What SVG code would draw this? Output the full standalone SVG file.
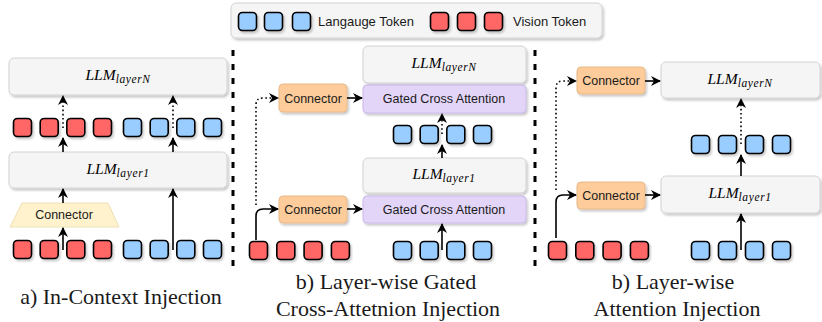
<svg xmlns="http://www.w3.org/2000/svg" width="822" height="322" viewBox="0 0 822 322">
<defs>
<filter id="sh" x="-10%" y="-20%" width="130%" height="160%">
<feDropShadow dx="1.5" dy="2" stdDeviation="1" flood-color="#000" flood-opacity="0.22"/>
</filter>
<marker id="ah" viewBox="0 0 10 10" refX="9" refY="5" markerWidth="10" markerHeight="10" markerUnits="userSpaceOnUse" orient="auto">
<path d="M0,0 L10,5 L0,10 L3,5 Z" fill="#000"/>
</marker>
</defs>
<style>
.box{fill:#f5f5f5;stroke:#d2d2d2;stroke-width:1;filter:url(#sh)}
.gca{fill:#e3d5f8;stroke:#cbb8ea;stroke-width:1;filter:url(#sh)}
.con{fill:#fdcc9a;stroke:#e9b888;stroke-width:1;filter:url(#sh)}
.trap{fill:#fff2cc;stroke:#eee0b4;stroke-width:1}
.t rect{stroke:#000;stroke-width:1.6;filter:url(#sh)}
.r{fill:#ff6666}
.b{fill:#99ccff}
.sans{font-family:"Liberation Sans",Arial,sans-serif;font-size:12.5px;fill:#1a1a1a;text-anchor:middle}
.llm{font-family:"Liberation Serif","Times New Roman",serif;font-style:italic;font-size:15.5px;fill:#000;text-anchor:middle}
.sub{font-size:11.5px;letter-spacing:0.6px}
.cap{font-family:"Liberation Serif","Times New Roman",serif;font-size:22px;fill:#1a1a1a;text-anchor:middle}
.a{fill:none;stroke:#000;stroke-width:1.6;marker-end:url(#ah)}
.d{fill:none;stroke:#000;stroke-width:1.6;stroke-dasharray:1.6 2.6;marker-end:url(#ah)}
.sep{stroke:#000;stroke-width:3;stroke-dasharray:6 8}
</style>

<g id="legend">
<rect x="231" y="3" width="371" height="35" rx="5" class="box"/>
<g class="t">
<rect x="238.5" y="12.5" width="18" height="18" rx="4" class="b"/>
<rect x="264.5" y="12.5" width="18" height="18" rx="4" class="b"/>
<rect x="292.5" y="12.5" width="18" height="18" rx="4" class="b"/>
<rect x="430.5" y="12.5" width="18" height="18" rx="4" class="r"/>
<rect x="457.5" y="12.5" width="18" height="18" rx="4" class="r"/>
<rect x="484.5" y="12.5" width="18" height="18" rx="4" class="r"/>
</g>
<text x="318" y="26" class="sans" style="text-anchor:start;font-size:13px">Langauge Token</text>
<text x="513" y="26" class="sans" style="text-anchor:start;font-size:13px">Vision Token</text>
</g>

<g id="separators">
<line x1="233" y1="50" x2="233" y2="272" class="sep"/>
<line x1="535" y1="50" x2="535" y2="272" class="sep"/>
</g>

<!-- Panel a -->
<g id="a-llmN">
<rect x="9" y="58" width="218" height="37" rx="5" class="box"/>
<text x="118" y="80" class="llm">LLM<tspan class="sub" dy="3">layerN</tspan></text>
</g>
<g id="a-tokens-mid" class="t">
<rect x="13.5" y="118.5" width="18" height="18" rx="4" class="r"/>
<rect x="40.2" y="118.5" width="18" height="18" rx="4" class="r"/>
<rect x="66.8" y="118.5" width="18" height="18" rx="4" class="r"/>
<rect x="93.5" y="118.5" width="18" height="18" rx="4" class="r"/>
<rect x="123.5" y="118.5" width="18" height="18" rx="4" class="b"/>
<rect x="150.2" y="118.5" width="18" height="18" rx="4" class="b"/>
<rect x="176.8" y="118.5" width="18" height="18" rx="4" class="b"/>
<rect x="203.5" y="118.5" width="18" height="18" rx="4" class="b"/>
</g>
<g id="a-llm1">
<rect x="9" y="152" width="218" height="36" rx="5" class="box"/>
<text x="118" y="174" class="llm">LLM<tspan class="sub" dy="3">layer1</tspan></text>
</g>
<g id="a-connector">
<path d="M22,203 L108,203 L119,227 L10,227 Z" class="trap"/>
<text x="64" y="219" class="sans">Connector</text>
</g>
<g id="a-tokens-in" class="t">
<rect x="13.5" y="240.5" width="18" height="18" rx="4" class="r"/>
<rect x="40.2" y="240.5" width="18" height="18" rx="4" class="r"/>
<rect x="66.8" y="240.5" width="18" height="18" rx="4" class="r"/>
<rect x="93.5" y="240.5" width="18" height="18" rx="4" class="r"/>
<rect x="123.5" y="240.5" width="18" height="18" rx="4" class="b"/>
<rect x="150.2" y="240.5" width="18" height="18" rx="4" class="b"/>
<rect x="176.8" y="240.5" width="18" height="18" rx="4" class="b"/>
<rect x="203.5" y="240.5" width="18" height="18" rx="4" class="b"/>
</g>
<text x="121" y="304" class="cap">a) In-Context Injection</text>

<!-- Panel b -->
<g id="b-llmN">
<rect x="363" y="46" width="163" height="37" rx="5" class="box"/>
<text x="444" y="68" class="llm">LLM<tspan class="sub" dy="3">layerN</tspan></text>
</g>
<g id="b-gca2">
<rect x="363" y="85" width="163" height="28" rx="4" class="gca"/>
<text x="444" y="103" class="sans">Gated Cross Attention</text>
</g>
<g id="b-conn2">
<rect x="279" y="84" width="68" height="28" rx="4" class="con"/>
<text x="313" y="103" class="sans">Connector</text>
</g>
<g id="b-tokens-mid" class="t">
<rect x="393.5" y="125.5" width="18" height="18" rx="4" class="b"/>
<rect x="420.2" y="125.5" width="18" height="18" rx="4" class="b"/>
<rect x="446.8" y="125.5" width="18" height="18" rx="4" class="b"/>
<rect x="473.5" y="125.5" width="18" height="18" rx="4" class="b"/>
</g>
<g id="b-llm1">
<rect x="363" y="158" width="163" height="35" rx="5" class="box"/>
<text x="444" y="179" class="llm">LLM<tspan class="sub" dy="3">layer1</tspan></text>
</g>
<g id="b-gca1">
<rect x="363" y="196" width="163" height="27" rx="4" class="gca"/>
<text x="444" y="214" class="sans">Gated Cross Attention</text>
</g>
<g id="b-conn1">
<rect x="279" y="196" width="68" height="27" rx="4" class="con"/>
<text x="313" y="214" class="sans">Connector</text>
</g>
<g id="b-tokens-in" class="t">
<rect x="249.5" y="241.5" width="18" height="18" rx="4" class="r"/>
<rect x="276.8" y="241.5" width="18" height="18" rx="4" class="r"/>
<rect x="304.1" y="241.5" width="18" height="18" rx="4" class="r"/>
<rect x="331.4" y="241.5" width="18" height="18" rx="4" class="r"/>
<rect x="393.5" y="241.5" width="18" height="18" rx="4" class="b"/>
<rect x="420.2" y="241.5" width="18" height="18" rx="4" class="b"/>
<rect x="446.8" y="241.5" width="18" height="18" rx="4" class="b"/>
<rect x="473.5" y="241.5" width="18" height="18" rx="4" class="b"/>
</g>
<text x="386" y="289" class="cap">b) Layer-wise Gated</text>
<text x="388" y="316" class="cap">Cross-Attetnion Injection</text>

<!-- Panel c -->
<g id="c-conn2">
<rect x="577" y="67" width="68" height="27" rx="4" class="con"/>
<text x="611" y="85" class="sans">Connector</text>
</g>
<g id="c-llmN">
<rect x="661" y="62" width="159" height="36" rx="5" class="box"/>
<text x="740" y="84" class="llm">LLM<tspan class="sub" dy="3">layerN</tspan></text>
</g>
<g id="c-tokens-mid" class="t">
<rect x="691.5" y="135.5" width="18" height="18" rx="4" class="b"/>
<rect x="718.5" y="135.5" width="18" height="18" rx="4" class="b"/>
<rect x="745.5" y="135.5" width="18" height="18" rx="4" class="b"/>
<rect x="772.5" y="135.5" width="18" height="18" rx="4" class="b"/>
</g>
<g id="c-conn1">
<rect x="577" y="182" width="68" height="27" rx="4" class="con"/>
<text x="611" y="200" class="sans">Connector</text>
</g>
<g id="c-llm1">
<rect x="661" y="176" width="159" height="37" rx="5" class="box"/>
<text x="740" y="198" class="llm">LLM<tspan class="sub" dy="3">layer1</tspan></text>
</g>
<g id="c-tokens-in" class="t">
<rect x="548.5" y="241.5" width="18" height="18" rx="4" class="r"/>
<rect x="575.8" y="241.5" width="18" height="18" rx="4" class="r"/>
<rect x="603.1" y="241.5" width="18" height="18" rx="4" class="r"/>
<rect x="630.4" y="241.5" width="18" height="18" rx="4" class="r"/>
<rect x="691.5" y="241.5" width="18" height="18" rx="4" class="b"/>
<rect x="718.5" y="241.5" width="18" height="18" rx="4" class="b"/>
<rect x="745.5" y="241.5" width="18" height="18" rx="4" class="b"/>
<rect x="772.5" y="241.5" width="18" height="18" rx="4" class="b"/>
</g>
<text x="673" y="289" class="cap">b) Layer-wise</text>
<text x="677" y="316" class="cap">Attention Injection</text>

<g id="connectors">
<!-- panel a -->
<path d="M63,128 L63,96" class="d"/>
<path d="M173,128 L173,96" class="d"/>
<path d="M63,152 L63,138" class="a"/>
<path d="M173,152 L173,138" class="a"/>
<path d="M63,203 L63,189" class="a"/>
<path d="M63,250 L63,228" class="a"/>
<path d="M173,250 L173,189" class="a"/>
<!-- panel b -->
<path d="M347,98 L362,98" class="a"/>
<path d="M256,205 L256,105 Q256,98 263,98 L278,98" class="d"/>
<path d="M442,134 L442,114" class="d"/>
<path d="M442,158 L442,145" class="a"/>
<path d="M347,209 L362,209" class="a"/>
<path d="M256,240 L256,216 Q256,209 263,209 L278,209" class="a"/>
<path d="M442,250 L442,224" class="a"/>
<!-- panel c -->
<path d="M645,81 L660,81" class="a"/>
<path d="M556,190 L556,88 Q556,81 563,81 L576,81" class="d"/>
<path d="M741,144 L741,99" class="d"/>
<path d="M741,176 L741,155" class="a"/>
<path d="M645,195 L660,195" class="a"/>
<path d="M556,238 L556,202 Q556,195 563,195 L576,195" class="a"/>
<path d="M741,250 L741,214" class="a"/>
</g>
</svg>
